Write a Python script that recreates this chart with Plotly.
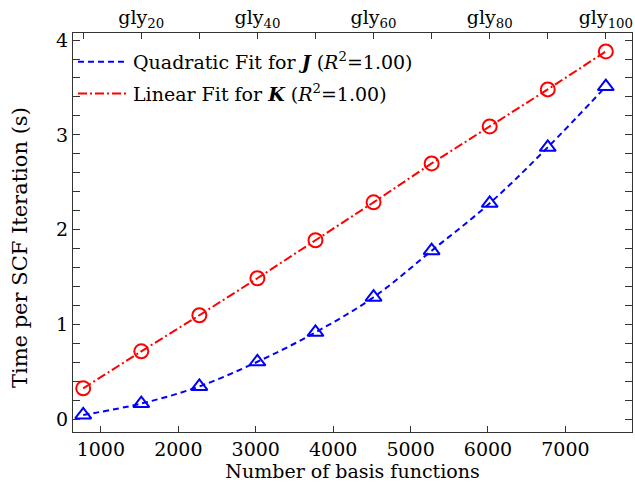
import plotly.graph_objects as go

n_basis = [772, 1522, 2272, 3022, 3772, 4522, 5272, 6022, 6772, 7522]
time_J = [0.05, 0.17, 0.35, 0.61, 0.92, 1.29, 1.78, 2.28, 2.87, 3.51]
time_K = [0.33, 0.72, 1.10, 1.49, 1.89, 2.29, 2.70, 3.09, 3.48, 3.88]
gly_labels = ["", "gly<sub>20</sub>", "", "gly<sub>40</sub>", "", "gly<sub>60</sub>",
              "", "gly<sub>80</sub>", "", "gly<sub>100</sub>"]

FONT = "DejaVu Serif"
FS = 19
BLUE = "#0000ff"
RED = "#ff0000"

fig = go.Figure()
fig.add_trace(go.Scatter(
    x=n_basis, y=time_J, mode="lines", line=dict(color=BLUE, width=2, dash="6px,4px", shape="spline"),
    name="Quadratic Fit for <b><i>J</i></b> (<i>R</i><sup>2</sup>=1.00)", legendgroup="a"))
fig.add_trace(go.Scatter(
    x=n_basis, y=time_K, mode="lines", line=dict(color=RED, width=2, dash="9px,3px,2px,3px"),
    name="Linear Fit for <b><i>K</i></b> (<i>R</i><sup>2</sup>=1.00)", legendgroup="b"))
fig.add_trace(go.Scatter(
    x=n_basis, y=time_J, mode="markers", showlegend=False,
    marker=dict(symbol="triangle-up-open", size=14, color=BLUE, line=dict(width=2, color=BLUE))))
fig.add_trace(go.Scatter(
    x=n_basis, y=time_K, mode="markers", showlegend=False,
    marker=dict(symbol="circle-open", size=14, color=RED, line=dict(width=2, color=RED))))
# invisible trace for top axis
fig.add_trace(go.Scatter(x=n_basis, y=time_K, xaxis="x2", mode="markers",
                         marker=dict(opacity=0), showlegend=False, hoverinfo="skip"))

axis_common = dict(showgrid=False, zeroline=False, showline=True, linecolor="#333333",
                   linewidth=1, ticks="inside", tickcolor="#333333", automargin=False,
                   tickfont=dict(family=FONT, size=FS, color="black"))

fig.update_layout(
    width=635, height=487,
    margin=dict(l=73, r=3, t=33, b=55),
    plot_bgcolor="white", paper_bgcolor="white",
    font=dict(family=FONT, size=FS, color="black"),
    xaxis=dict(**axis_common, range=[640, 7860], tickvals=[1000, 2000, 3000, 4000, 5000, 6000, 7000],
               ticklen=6, mirror=True,
               title=dict(text="Number of basis functions", font=dict(family=FONT, size=FS), standoff=2)),
    xaxis2=dict(**axis_common, range=[640, 7860], overlaying="x", side="top", anchor="y",
                tickvals=n_basis, ticktext=gly_labels, ticklen=6),
    yaxis=dict(**axis_common, range=[-0.13, 4.074], tickvals=[0, 1, 2, 3, 4], ticklen=7, mirror="allticks",
               minor=dict(dtick=0.2, ticks="inside", ticklen=4, tickcolor="#333333")),
    legend=dict(x=0.0, y=0.975, xanchor="left", yanchor="top", bgcolor="rgba(0,0,0,0)",
                font=dict(family=FONT, size=FS), tracegroupgap=4, traceorder="grouped",
                itemwidth=50),
    showlegend=True,
    annotations=[dict(text="Time per SCF Iteration (s)", textangle=-90, showarrow=False,
                      xref="paper", yref="paper", x=-0.0948, y=0.461,
                      xanchor="center", yanchor="middle",
                      font=dict(family=FONT, size=21, color="black"))],
)

fig.write_html("out.html", config={"displayModeBar": False},
               post_script="document.body.style.margin='0';document.body.style.overflow='hidden';")
